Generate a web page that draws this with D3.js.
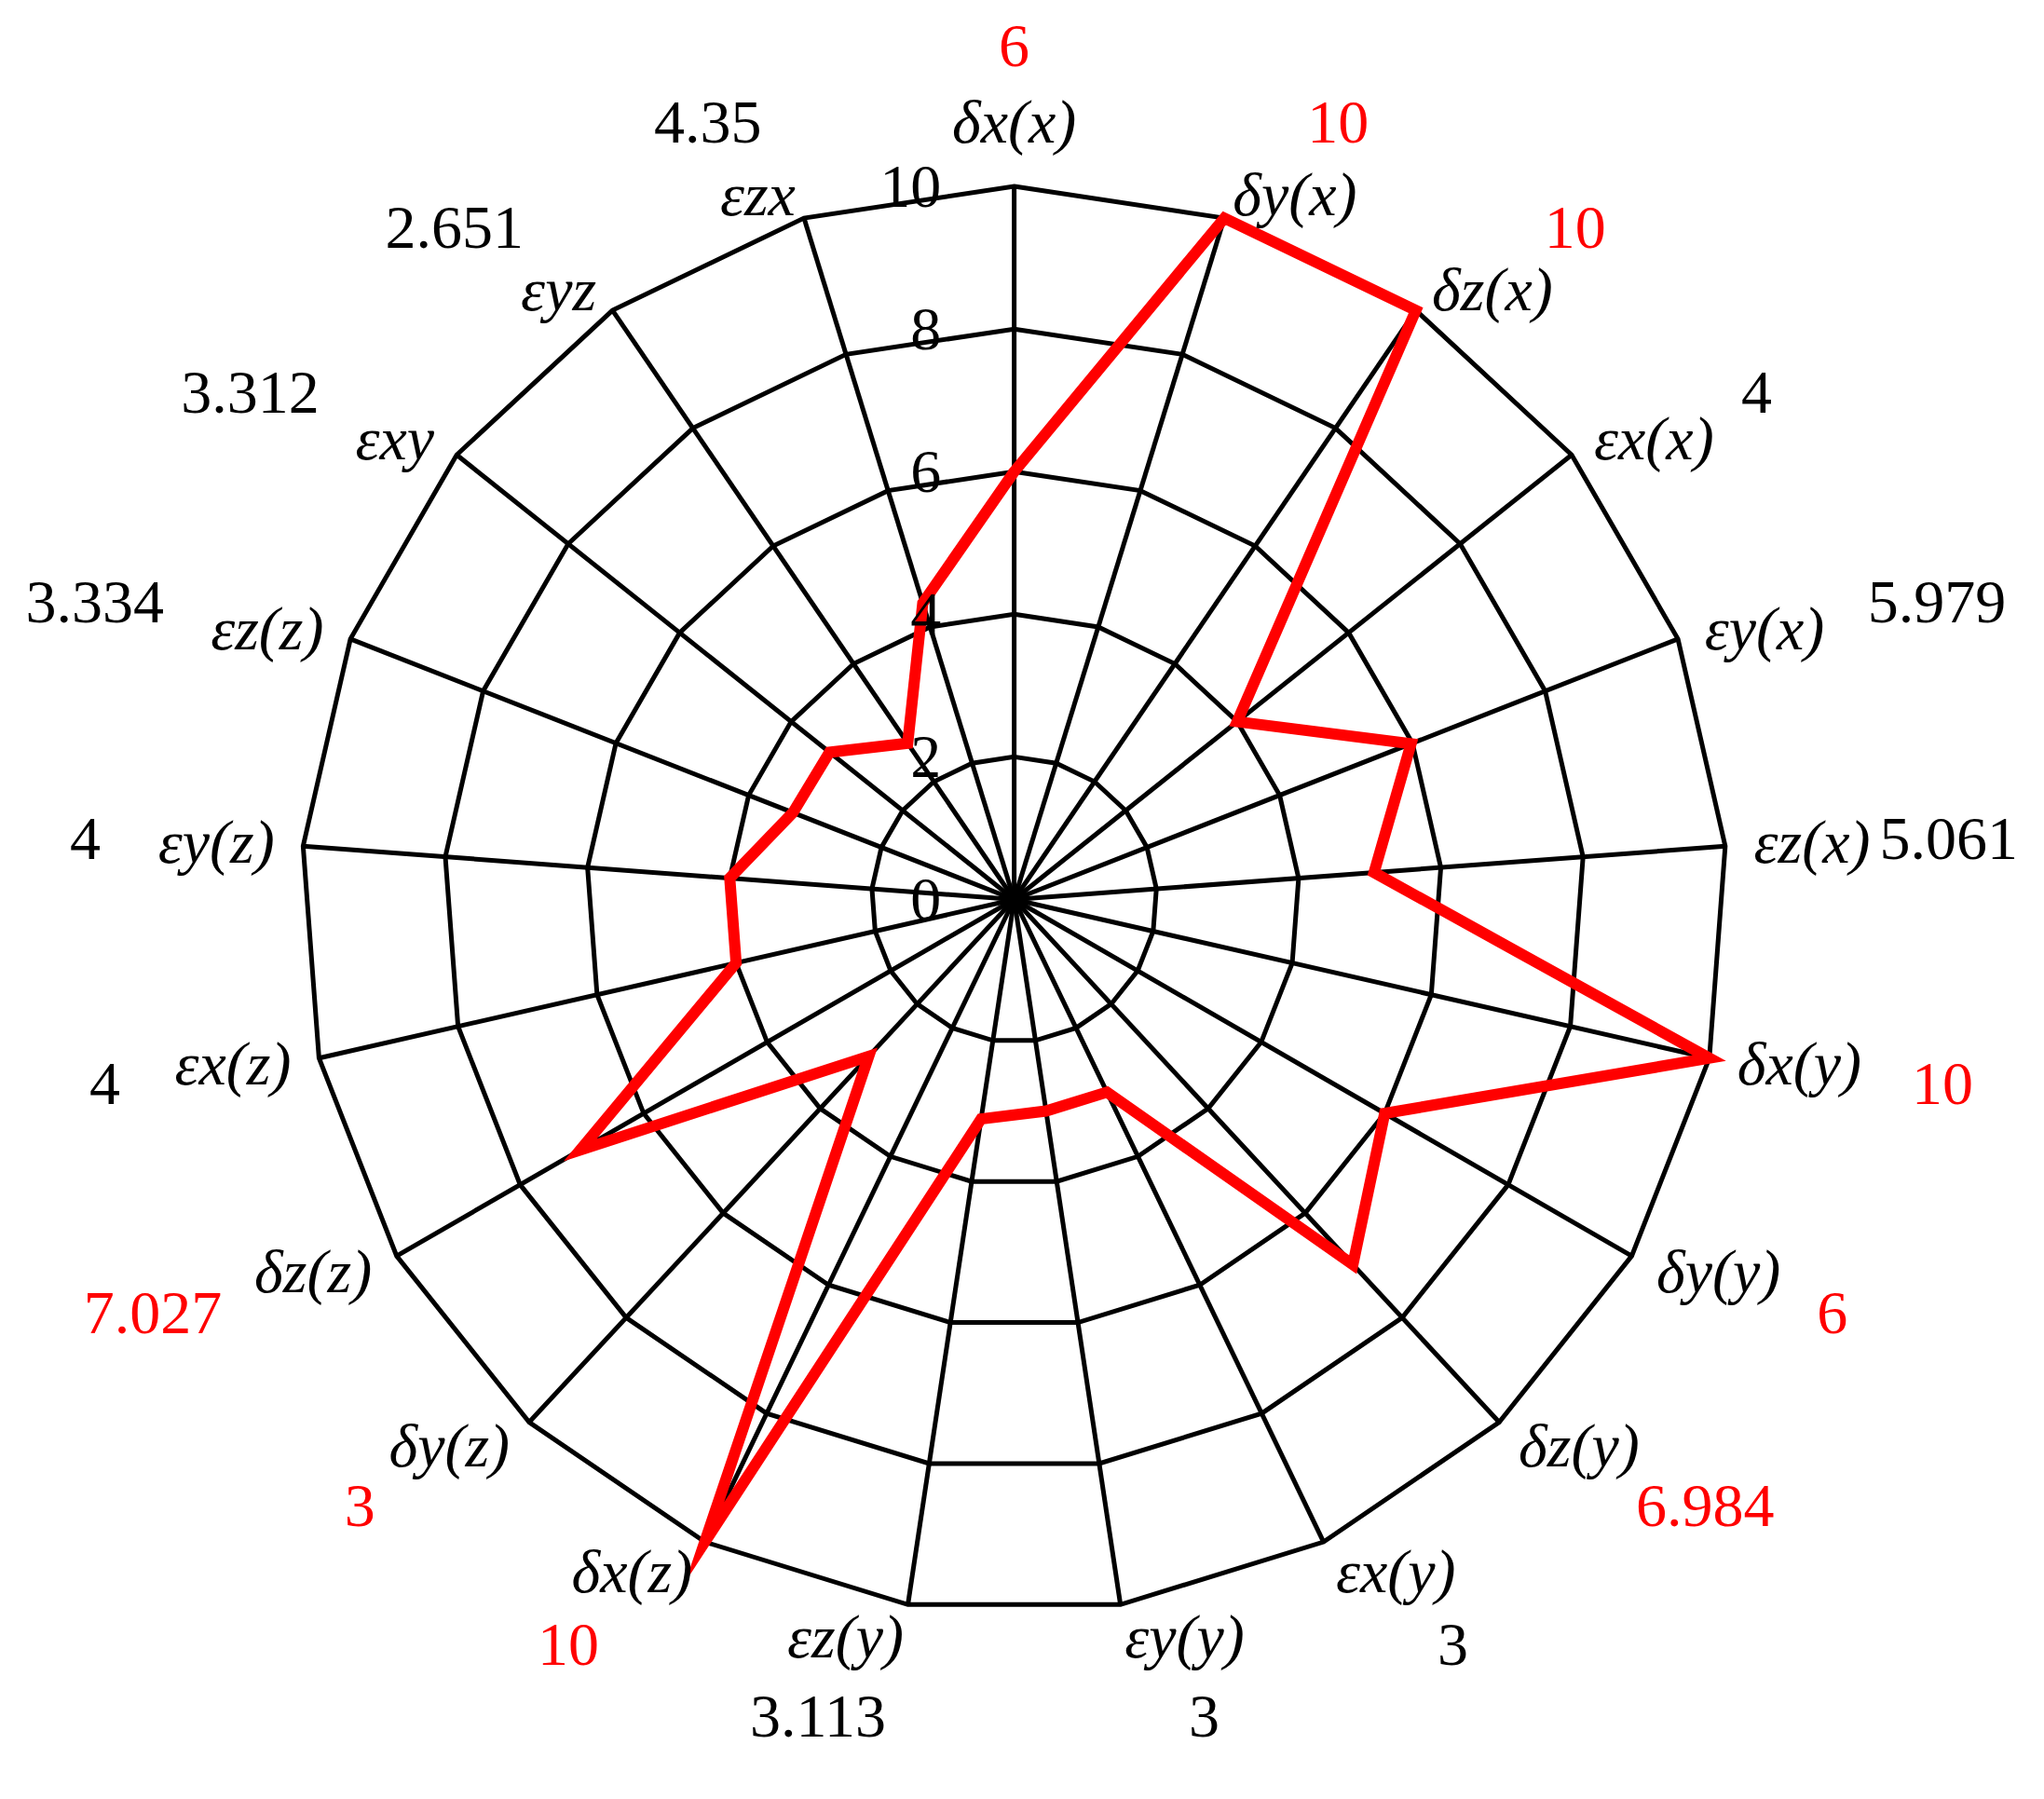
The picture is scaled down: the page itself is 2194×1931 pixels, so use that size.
<!DOCTYPE html>
<html>
<head>
<meta charset="utf-8">
<script src="https://cdn.jsdelivr.net/npm/d3@7"></script>
<style>
  body { margin: 0; background: #fff; }
  text { font-family: "Liberation Serif", "Times New Roman", serif; font-size: 66px; }
  .axis-label { font-style: italic; }
</style>
</head>
<body>
<div id="chart"></div>
<script>
// radar chart, 21 error components, scaled 0-10

const axes = ["δx(x)", "δy(x)", "δz(x)", "εx(x)", "εy(x)", "εz(x)",
              "δx(y)", "δy(y)", "δz(y)", "εx(y)", "εy(y)", "εz(y)",
              "δx(z)", "δy(z)", "δz(z)", "εx(z)", "εy(z)", "εz(z)",
              "εxy", "εyz", "εzx"];
const values = [6, 10, 10, 4, 5.979, 5.061,
                10, 6, 6.984, 3, 3, 3.113,
                10, 3, 7.027, 4, 4, 3.334,
                3.312, 2.651, 4.35];
const ticks = [0, 2, 4, 6, 8, 10];

const width = 2194,
    height = 1931;
const k = width / 1568; // layout measured on the small picture
const cx = 778 * k,
    cy = 690 * k,
    R = 547 * k;

const svg = d3.select("#chart")
    .append("svg")
    .attr("width", width)
    .attr("height", height)
    .attr("viewBox", [0, 0, width, height]);

svg.append("rect").attr("width", width).attr("height", height).attr("fill", "#fff");

const g = svg.append("g").attr("transform", `translate(${cx},${cy})`);

const r = d3.scaleLinear().domain([0, 10]).range([0, R]);
const angle = i => i * 2 * Math.PI / axes.length;

const web = d3.lineRadial()
    .angle((d, i) => angle(i))
    .radius(d => r(d))
    .curve(d3.curveLinearClosed);

// rings
g.selectAll(".ring")
  .data(ticks.filter(t => t > 0))
  .join("path")
    .attr("class", "ring")
    .attr("d", t => web(axes.map(() => t)))
    .attr("fill", "none")
    .attr("stroke", "#000")
    .attr("stroke-width", 5);

// spokes
g.selectAll(".spoke")
  .data(axes)
  .join("line")
    .attr("class", "spoke")
    .attr("x1", 0).attr("y1", 0)
    .attr("x2", (d, i) => r(10) * Math.sin(angle(i)))
    .attr("y2", (d, i) => -r(10) * Math.cos(angle(i)))
    .attr("stroke", "#000")
    .attr("stroke-width", 5);

// the data line
g.append("path")
    .datum(values)
    .attr("d", web)
    .attr("fill", "none")
    .attr("stroke", "#ff0000")
    .attr("stroke-width", 12)
    .attr("stroke-linejoin", "miter")
    .attr("stroke-miterlimit", 10);

// radial tick labels
g.selectAll(".tick")
  .data(ticks)
  .join("text")
    .attr("class", "tick")
    .attr("x", -56 * k)
    .attr("y", d => -r(d))
    .attr("dy", "0.33em")
    .attr("text-anchor", "end")
    .text(d => d);

// axis names and their values
axes.forEach((name, i) => {
    const a = angle(i), s = Math.sin(a), c = Math.cos(a);
    const vx = r(10) * s, vy = -r(10) * c;
    const anchor = s > 0.05 ? "start" : s < -0.05 ? "end" : "middle";
    let lx = vx + 22 * k * s,
        ly = vy - c * (c > 0 ? 17 : 27) * k;
    if (anchor === "middle") { lx = vx; ly = vy - 48 * k; }

    const label = g.append("text")
        .attr("class", "axis-label")
        .attr("x", lx)
        .attr("y", ly)
        .attr("dy", "0.3em")
        .attr("text-anchor", anchor)
        .text(name);

    const w = label.node().getComputedTextLength();
    const mid = anchor === "start" ? lx + w / 2 : anchor === "end" ? lx - w / 2 : lx;

    const val = g.append("text")
        .attr("class", "value-label")
        .attr("text-anchor", "middle")
        .attr("dy", "0.33em")
        .attr("fill", name.startsWith("δ") ? "#ff0000" : "#000")
        .text(String(values[i]));
    const w2 = val.node().getComputedTextLength();
    // keep the value inside the picture
    let x = mid + s * (100 + (w2 / k - 22) * 0.5) * k;
    x = Math.min(x, width - cx - 28 - w2 / 2);
    x = Math.max(x, 20 - cx + w2 / 2);
    val.attr("x", x)
       .attr("y", ly - c * 60 * k);
});
</script>
</body>
</html>
